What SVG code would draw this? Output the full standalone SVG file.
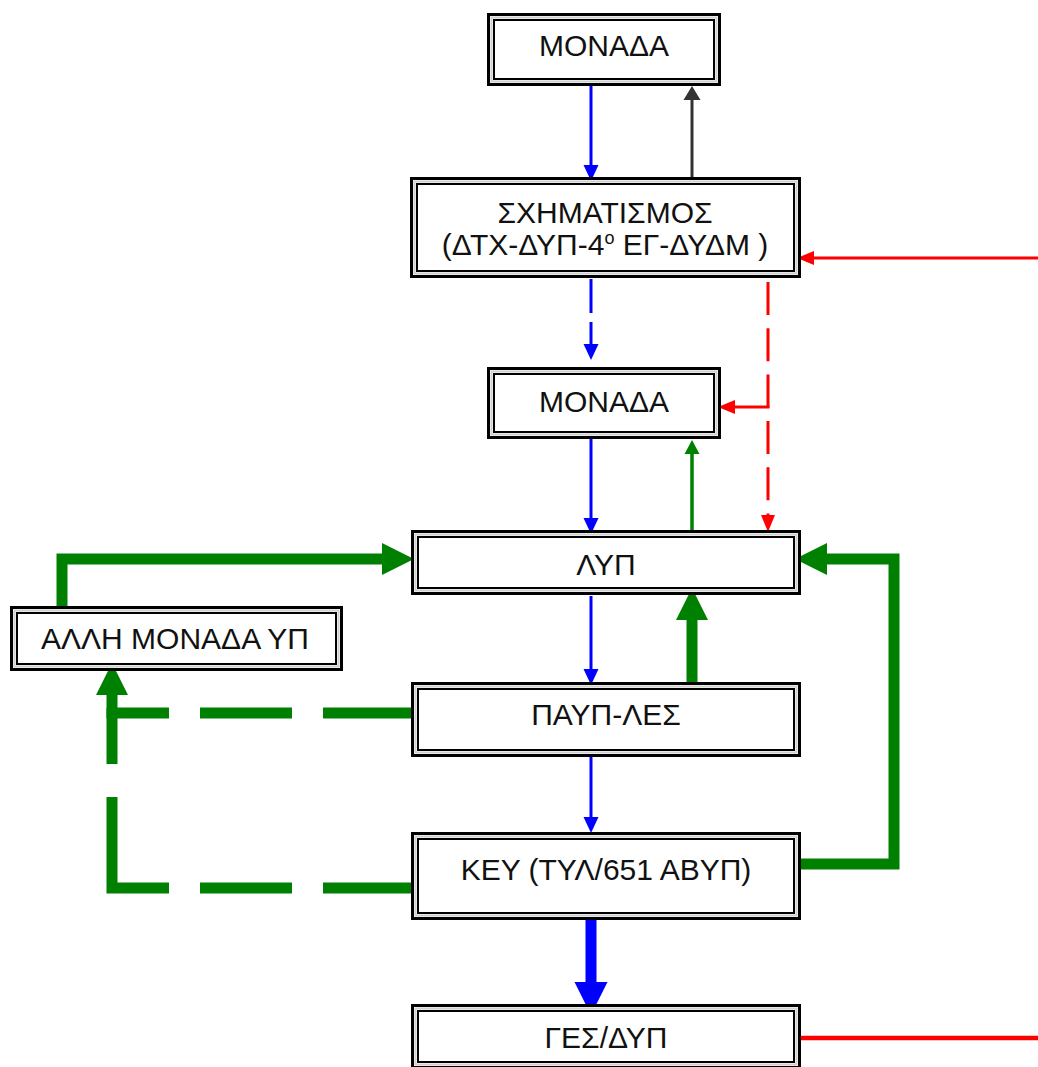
<svg xmlns="http://www.w3.org/2000/svg" width="1038" height="1067" viewBox="0 0 1038 1067">
<style>
.o{fill:#fff;stroke:#000;stroke-width:3}
.m{fill:none;stroke:#cfcfcf;stroke-width:2}
.i{fill:none;stroke:#000;stroke-width:2}
text{font-family:"Liberation Sans",Arial,sans-serif;font-size:30px;fill:#111;text-anchor:middle}
.c{fill:none;stroke-linejoin:miter;stroke-linecap:butt}
.b{stroke:#0000ff;stroke-width:3}
.bt{stroke:#0000ff;stroke-width:11}
.r{stroke:#ff0000;stroke-width:3}
.rt{stroke:#ff0000;stroke-width:4.5}
.k{stroke:#333;stroke-width:3}
.g{stroke:#008000;stroke-width:3.5}
.gt{stroke:#008000;stroke-width:11}
</style>
<defs>
<marker id="bS" markerUnits="userSpaceOnUse" orient="auto" refX="0" refY="0" markerWidth="20" markerHeight="20" overflow="visible"><path d="M0,-7.5 L16,0 L0,7.5 Z" fill="#0000ff"/></marker>
<marker id="bL" markerUnits="userSpaceOnUse" orient="auto" refX="0" refY="0" markerWidth="40" markerHeight="40" overflow="visible"><path d="M0,-16.5 L33,0 L0,16.5 Z" fill="#0000ff"/></marker>
<marker id="kS" markerUnits="userSpaceOnUse" orient="auto" refX="0" refY="0" markerWidth="20" markerHeight="20" overflow="visible"><path d="M0,-8.5 L14,0 L0,8.5 Z" fill="#333"/></marker>
<marker id="rS" markerUnits="userSpaceOnUse" orient="auto" refX="0" refY="0" markerWidth="20" markerHeight="20" overflow="visible"><path d="M0,-7 L17,0 L0,7 Z" fill="#ff0000"/></marker>
<marker id="gS" markerUnits="userSpaceOnUse" orient="auto" refX="0" refY="0" markerWidth="20" markerHeight="20" overflow="visible"><path d="M0,-7.5 L14,0 L0,7.5 Z" fill="#008000"/></marker>
<marker id="gL" markerUnits="userSpaceOnUse" orient="auto" refX="0" refY="0" markerWidth="40" markerHeight="40" overflow="visible"><path d="M0,-16 L32,0 L0,16 Z" fill="#008000"/></marker>
</defs>
<g id="connectors">
<path class="c b" d="M591,86 V165" marker-end="url(#bS)"/>
<path class="c k" d="M692,177 V100" marker-end="url(#kS)"/>
<path class="c b" d="M591,279 V344" stroke-dasharray="34 9" marker-end="url(#bS)"/>
<path class="c r" d="M1038,258 H814" marker-end="url(#rS)"/>
<path class="c r" d="M768,282 V515" stroke-dasharray="33 13.3" marker-end="url(#rS)"/>
<path class="c r" d="M769.5,407 H735" marker-end="url(#rS)"/>
<path class="c b" d="M591,439 V518" marker-end="url(#bS)"/>
<path class="c g" d="M692,530 V454" marker-end="url(#gS)"/>
<path class="c gt" d="M62,606 V559 H382" marker-end="url(#gL)"/>
<path class="c gt" d="M692,682 V620" marker-end="url(#gL)"/>
<path class="c b" d="M591,596 V669" marker-end="url(#bS)"/>
<path class="c gt" d="M411,713 H112 V695" stroke-dasharray="88 31 92 31 1000" marker-end="url(#gL)"/>
<path class="c gt" d="M411,888 H112 V708" stroke-dasharray="88 31 92 31 148 33 100"/>
<path class="c b" d="M591,757 V817" marker-end="url(#bS)"/>
<path class="c gt" d="M801,864 H894 V559 H827" marker-end="url(#gL)"/>
<path class="c bt" d="M591,920 V982" marker-end="url(#bL)"/>
<path class="c rt" d="M800,1038 H1038"/>
</g>
<g id="n1">
<rect class="o" x="488.5" y="14.5" width="231" height="70"/><rect class="m" x="491.5" y="17.5" width="225" height="64"/><rect class="i" x="494" y="20" width="220" height="59"/>
<text x="604" y="56">ΜΟΝΑΔΑ</text>
</g>
<g id="n2">
<rect class="o" x="411.5" y="178.5" width="388" height="98"/><rect class="m" x="414.5" y="181.5" width="382" height="92"/><rect class="i" x="417" y="184" width="377" height="87"/>
<text x="605" y="223">ΣΧΗΜΑΤΙΣΜΟΣ</text>
<text x="605" y="255">(ΔΤΧ-ΔΥΠ-4<tspan font-size="18" dy="-11">ο</tspan><tspan dy="11"> ΕΓ-ΔΥΔΜ )</tspan></text>
</g>
<g id="n3">
<rect class="o" x="488.5" y="368.5" width="231" height="69"/><rect class="m" x="491.5" y="371.5" width="225" height="63"/><rect class="i" x="494" y="374" width="220" height="58"/>
<text x="604" y="412">ΜΟΝΑΔΑ</text>
</g>
<g id="n4">
<rect class="o" x="412.5" y="531.5" width="387" height="62"/><rect class="m" x="415.5" y="534.5" width="381" height="56"/><rect class="i" x="418" y="537" width="376" height="51"/>
<text x="606" y="575">ΛΥΠ</text>
</g>
<g id="n5">
<rect class="o" x="11.5" y="607.5" width="330" height="62"/><rect class="m" x="14.5" y="610.5" width="324" height="56"/><rect class="i" x="17" y="613" width="319" height="51"/>
<text x="175" y="649">ΑΛΛΗ ΜΟΝΑΔΑ ΥΠ</text>
</g>
<g id="n6">
<rect class="o" x="412.5" y="683.5" width="387" height="72"/><rect class="m" x="415.5" y="686.5" width="381" height="66"/><rect class="i" x="418" y="689" width="376" height="61"/>
<text x="606" y="725">ΠΑΥΠ-ΛΕΣ</text>
</g>
<g id="n7">
<rect class="o" x="412.5" y="833.5" width="387" height="85"/><rect class="m" x="415.5" y="836.5" width="381" height="79"/><rect class="i" x="418" y="839" width="376" height="74"/>
<text x="606" y="880">ΚΕΥ (ΤΥΛ/651 ΑΒΥΠ)</text>
</g>
<g id="n8">
<rect class="o" x="412.5" y="1005.5" width="387" height="62"/><rect class="m" x="415.5" y="1008.5" width="381" height="56"/><rect class="i" x="418" y="1011" width="376" height="51"/>
<text x="606" y="1048">ΓΕΣ/ΔΥΠ</text>
</g>
</svg>
